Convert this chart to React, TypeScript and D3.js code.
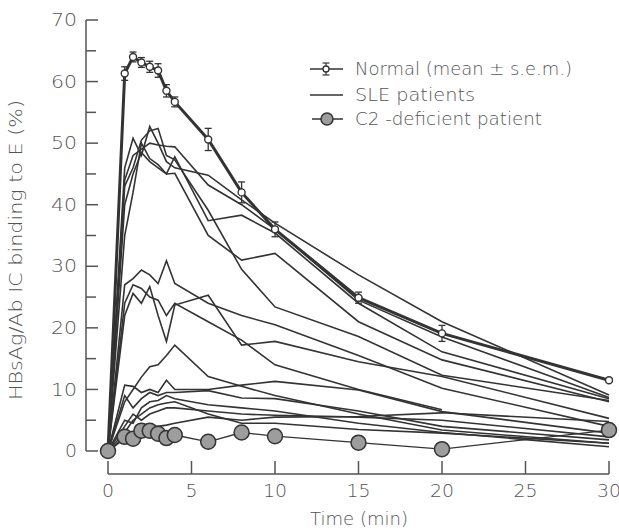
import React from "react";
import * as d3 from "d3";

const times = [0, 1, 1.5, 2, 2.5, 3, 3.5, 4, 6, 8, 10, 15, 20, 30];
const normalMean = [0, 61.3, 64.0, 63.1, 62.4, 61.8, 58.5, 56.7, 50.6, 42.0, 36.0, 24.9, 19.1, 11.5];
const normalSem = [0, 1.1, 0.8, 0.8, 0.9, 1.1, 1.0, 0.8, 1.8, 1.7, 1.2, 0.9, 1.3, 0.3];
const c2Deficient = [0, 2.3, 2.0, 3.3, 3.3, 2.8, 2.1, 2.6, 1.5, 3.0, 2.4, 1.35, 0.3, 3.4];

const slePatients: (number | null)[][] = [
  [0, 46, 50.8, 48, 52.7, 50, 47, 46, 44.8, 40.8, 37, 28.6, 21, 9.1],
  [0, 43, 46, 50.5, 52, 52.4, 48, 47.3, 39.1, 29.5, 23.4, 18.6, 12.3, 8.2],
  [0, 44, 48, 49, 50, 49.7, 49.5, 49.4, 43.2, 40, 36, 24.5, 18.5, 8.7],
  [0, 35, 42, 50, 47.5, 46.5, 45, 47.8, 37.4, 38.3, 35.4, 24, 16.1, 8.5],
  [0, 40, 45, 48.5, 47, 46, 45, 45.1, 35, 31, 32.1, 21, 14.8, 8.0],
  [0, 27, 28, 29.4, 28.6, 27.2, 30.9, 27.2, 24, 22, 20.5, 15.5, 10.2, 4.0],
  [0, 22, 25.6, 24, 26.7, 22, 17.8, 23.7, 25.3, 17.2, 17.8, 14.5, 12.1, 5.3],
  [0, 24, 27, 26.4, 25, 24.5, 22, 24, 21, 18, 14, 10, 6.7, null],
  [0, 8, 10, 12, 13.7, 14, 15.5, 17.2, 12.1, 10.5, 9, 6, 3.4, 1.25],
  [0, 10.7, 10.5, 9.5, 10, 9.5, 11.5, 10, 10, 10.7, 11.3, 9.9, 6.4, 2.9],
  [0, 9, 7, 8.5, 9.5, 9, 9.5, 9.5, 9.8, 8.6, 8.5, 6.5, 4, 1.8],
  [0, 5, 4.5, 7, 8, 8.2, 9, 8.5, 7.5, 7, 6.5, 4.5, 3, 0.7],
  [0, 3, 5, 6, 7, 7.5, 7.8, 8, 6, 4.5, 4.5, 3.5, 2.9, 1.25],
  [0, 2, 3, 3.5, 4, 4, 4.2, 4.5, 5.5, 5, 5.5, 5.6, 6.2, 4.8],
  [0, 4, 6, 5, 6, 6.5, 7, 7, 6.5, 6, 5.8, 5.5, 5, 2.3],
];

const xTicks = [0, 5, 10, 15, 20, 25, 30];
const yMajor = [0, 10, 20, 30, 40, 50, 60, 70];
const yMinor = [5, 15, 25, 35, 45, 55, 65];

const legendLabels = ["Normal (mean \u00b1 s.e.m.)", "SLE patients", "C2 -deficient patient"];
const legendWidths = [217, 120, 187];

const FONT = "'DejaVu Sans', sans-serif";
const INK = "#333";
const TXT = "#555";

export default function App() {
  const W = 619, H = 531;
  const x = d3.scaleLinear().domain([0, 30]).range([108, 609]);
  const y = d3.scaleLinear().domain([0, 70]).range([451, 20]);
  const axisY = 474;
  const axisX = 86;

  const line = d3
    .line<number | null>()
    .defined((d) => d !== null)
    .x((_, i) => x(times[i]))
    .y((d) => y(d as number));

  const tickLabel = (s: string) => (s.length === 1 ? 12 : 26);

  return (
    <svg width={W} height={H} style={{ position: "absolute", left: 0, top: 0, background: "#fff" }}>
      {/* Y axis */}
      <line x1={axisX} x2={axisX} y1={y(70)} y2={y(0)} stroke={TXT} strokeWidth={1.5} />
      {yMajor.map((v) => (
        <g key={"ym" + v}>
          <line x1={axisX} x2={axisX + 12} y1={y(v)} y2={y(v)} stroke={TXT} strokeWidth={1.5} />
          <text x={77} y={y(v)} dy="0.36em" textAnchor="end" fontFamily={FONT} fontWeight={200} fontSize={17} fill={TXT}
            textLength={tickLabel(String(v))} lengthAdjust="spacingAndGlyphs">
            {v}
          </text>
        </g>
      ))}
      {yMinor.map((v) => (
        <line key={"yn" + v} x1={axisX} x2={axisX + 10} y1={y(v)} y2={y(v)} stroke={TXT} strokeWidth={1.5} />
      ))}
      {/* X axis */}
      <line x1={x(0)} x2={x(30)} y1={axisY} y2={axisY} stroke={TXT} strokeWidth={1.5} />
      {xTicks.map((t) => (
        <g key={"xt" + t}>
          <line x1={x(t)} x2={x(t)} y1={axisY} y2={axisY - 13} stroke={TXT} strokeWidth={1.5} />
          <text x={x(t)} y={497} textAnchor="middle" fontFamily={FONT} fontWeight={200} fontSize={18} fill={TXT}
            textLength={String(t).length === 1 ? 12 : 24} lengthAdjust="spacingAndGlyphs">
            {t}
          </text>
        </g>
      ))}
      <text x={359} y={525} textAnchor="middle" fontFamily={FONT} fontWeight={200} fontSize={17} fill={TXT}
        textLength={98} lengthAdjust="spacingAndGlyphs">
        Time (min)
      </text>
      <text
        transform={`translate(22,${250}) rotate(-90)`}
        textAnchor="middle"
        fontFamily={FONT}
        fontWeight={200}
        fontSize={17}
        fill={TXT}
        textLength={300}
        lengthAdjust="spacingAndGlyphs"
      >
        HBsAg/Ab IC binding to E (%)
      </text>

      {/* SLE patients */}
      {slePatients.map((s, i) => (
        <path key={"sle" + i} d={line(s) || ""} fill="none" stroke={INK} strokeWidth={1.6} strokeLinejoin="miter" />
      ))}

      {/* Normal */}
      <path d={line(normalMean) || ""} fill="none" stroke={INK} strokeWidth={3} />
      {normalMean.map((m, i) =>
        i === 0 ? null : (
          <g key={"nm" + i}>
            <line x1={x(times[i])} x2={x(times[i])} y1={y(m - normalSem[i])} y2={y(m + normalSem[i])} stroke={INK} strokeWidth={1.3} />
            <line x1={x(times[i]) - 3.5} x2={x(times[i]) + 3.5} y1={y(m - normalSem[i])} y2={y(m - normalSem[i])} stroke={INK} strokeWidth={1.3} />
            <line x1={x(times[i]) - 3.5} x2={x(times[i]) + 3.5} y1={y(m + normalSem[i])} y2={y(m + normalSem[i])} stroke={INK} strokeWidth={1.3} />
            <circle cx={x(times[i])} cy={y(m)} r={3.5} fill="#fff" stroke={INK} strokeWidth={1.4} />
          </g>
        )
      )}

      {/* C2-deficient */}
      <path d={line(c2Deficient) || ""} fill="none" stroke={INK} strokeWidth={1.3} />
      {c2Deficient.map((v, i) => (
        <circle key={"c2" + i} cx={x(times[i])} cy={y(v)} r={7.5} fill="#9d9d9d" stroke={INK} strokeWidth={1.5} />
      ))}

      {/* Legend */}
      <g>
        <line x1={310} x2={343} y1={69} y2={69} stroke={INK} strokeWidth={1.5} />
        <line x1={326} x2={326} y1={63} y2={75} stroke={INK} strokeWidth={1.2} />
        <line x1={322.5} x2={329.5} y1={63} y2={63} stroke={INK} strokeWidth={1.2} />
        <line x1={322.5} x2={329.5} y1={75} y2={75} stroke={INK} strokeWidth={1.2} />
        <circle cx={326} cy={69} r={3} fill="#fff" stroke={INK} strokeWidth={1.3} />
        {legendLabels.map((lab, i) => (
          <text key={"lg" + i} x={355} y={[69, 95, 119][i]} dy="0.36em" fontFamily={FONT} fontWeight={200} fontSize={17} fill={TXT}
            textLength={legendWidths[i]} lengthAdjust="spacingAndGlyphs">
            {lab}
          </text>
        ))}
        <line x1={310} x2={343} y1={95} y2={95} stroke={INK} strokeWidth={1.5} />
        <line x1={312} x2={343} y1={119} y2={119} stroke={INK} strokeWidth={1.5} />
        <circle cx={327} cy={119} r={6} fill="#9d9d9d" stroke={INK} strokeWidth={1.5} />
      </g>
    </svg>
  );
}
